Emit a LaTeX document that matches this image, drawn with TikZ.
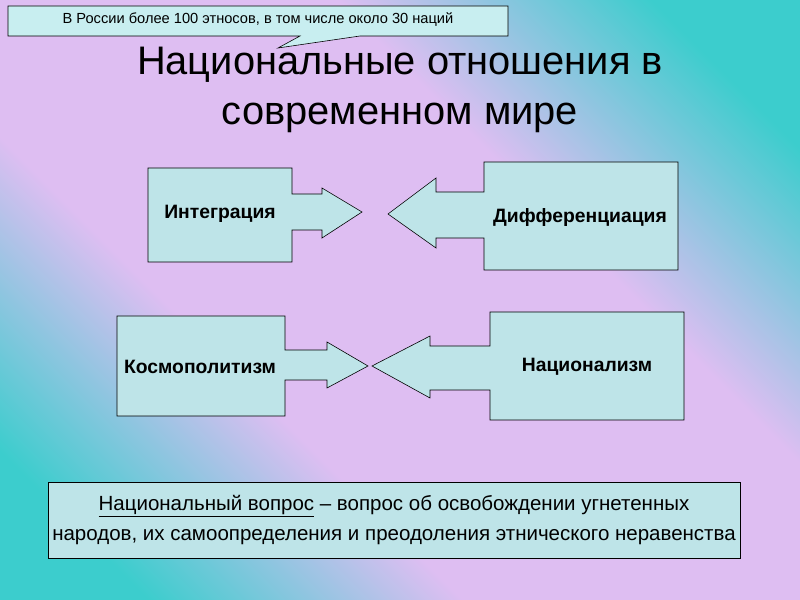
\documentclass[tikz,border=0pt]{standalone}
\usepackage{fontspec}
\setmainfont{Liberation Sans}
\definecolor{teal1}{RGB}{60,205,205}
\definecolor{lav}{RGB}{222,190,242}
\definecolor{boxc}{RGB}{190,228,232}
\definecolor{callc}{RGB}{200,238,240}
\pgfdeclareverticalshading{bgsh}{100bp}{color(0bp)=(teal1); color(22bp)=(teal1); color(38bp)=(lav); color(62bp)=(lav); color(78bp)=(teal1); color(100bp)=(teal1)}
\begin{document}
\begin{tikzpicture}[x=0.03cm,y=-0.03cm,
  shp/.style={draw=black,fill=boxc,line width=0.5pt},
  lbl/.style={font=\bfseries\fontsize{16.5}{19}\selectfont}]
\useasboundingbox (0,0) rectangle (800,600);
\shade[shading=bgsh,shading angle=-45] (0,0) rectangle (800,600);
% callout
\draw[shp,fill=callc] (8,6) -- (508,6) -- (508,36) -- (360,36) -- (278,48) -- (300,36) -- (8,36) -- cycle;
\node (call) at (258,20) {\fontsize{12.5}{14}\selectfont В России более 100 этносов, в том числе около 30 наций};
\node[align=center,font=\fontsize{34}{42}\selectfont] (title) at (400,90) {Национальные отношения в\\современном мире};
% Integration
\draw[shp] (148,168) -- (292,168) -- (292,194) -- (322,194) -- (322,188) -- (362,212) -- (322,238) -- (322,230) -- (292,230) -- (292,262) -- (148,262) -- cycle;
\node[lbl] (integ) at (220,214) {Интеграция};
% Differentiation
\draw[shp] (678,162) -- (484,162) -- (484,192) -- (436,192) -- (436,178) -- (388,214) -- (436,248) -- (436,238) -- (484,238) -- (484,270) -- (678,270) -- cycle;
\node[lbl] (diff) at (580,218) {Дифференциация};
% Cosmopolitism
\draw[shp] (117,316) -- (285,316) -- (285,350) -- (327,350) -- (327,342) -- (368,366) -- (327,388) -- (327,380) -- (285,380) -- (285,416) -- (117,416) -- cycle;
\node[lbl] (cosm) at (200,367) {Космополитизм};
% Nationalism
\draw[shp] (684,312) -- (490,312) -- (490,346) -- (430,346) -- (430,336) -- (372,366) -- (430,398) -- (430,390) -- (490,390) -- (490,420) -- (684,420) -- cycle;
\node[lbl] (nat) at (587,367) {Национализм};
% bottom box
\draw[shp] (48,482) rectangle (740,558);
\node[align=center,font=\fontsize{17.5}{25}\selectfont] (def) at (394,520) {\underline{Национальный вопрос} – вопрос об освобождении угнетенных\\народов, их самоопределения и преодоления этнического неравенства};
\end{tikzpicture}
\end{document}
